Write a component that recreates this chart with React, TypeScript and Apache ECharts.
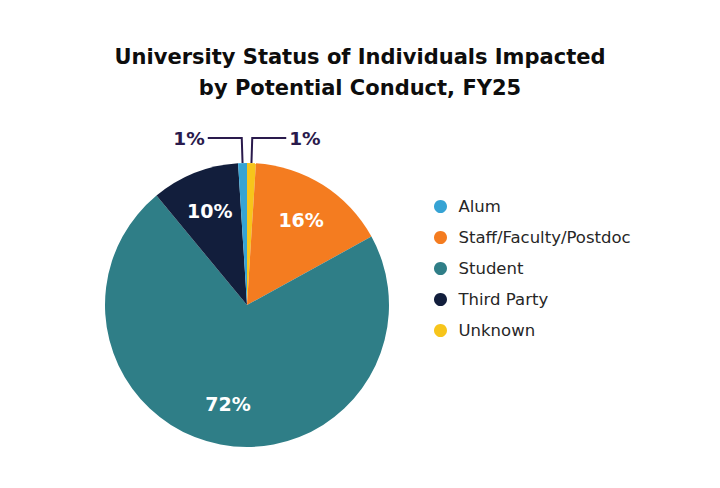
import React, { useEffect, useRef } from "react";
import * as echarts from "echarts";

const titleText = "University Status of Individuals Impacted\nby Potential Conduct, FY25";
const legendOrder = ["Alum", "Staff/Faculty/Postdoc", "Student", "Third Party", "Unknown"];
const legendColors = ["#36A3D4", "#F47C20", "#2F7E87", "#121E3C", "#F7C51B"];
// slice order clockwise from 12 o'clock
const sliceNames = ["Unknown", "Staff/Faculty/Postdoc", "Student", "Third Party", "Alum"];
const sliceValues = [1, 16, 72, 10, 1];
const outsideLabelNames = ["Unknown", "Alum"];

const colorOf = (name: string) => legendColors[legendOrder.indexOf(name)];

export default function App() {
  const ref = useRef<HTMLDivElement>(null);
  useEffect(() => {
    document.body.style.margin = "0";
    const chart = echarts.init(ref.current!, null, { renderer: "svg" });
    const font = "'DejaVu Sans', sans-serif";
    const mainData = sliceNames.map((name, i) => {
      const outside = outsideLabelNames.includes(name);
      return {
        name,
        value: sliceValues[i],
        itemStyle: { color: colorOf(name) },
        label: { show: outside },
        labelLine: { show: outside },
      };
    });
    const innerData = sliceNames.map((name, i) => ({
      name,
      value: sliceValues[i],
      label: { show: !outsideLabelNames.includes(name) },
    }));
    chart.setOption({
      animation: false,
      backgroundColor: "#ffffff",
      title: {
        text: titleText,
        left: "center",
        top: 36,
        textStyle: {
          fontFamily: font,
          fontSize: 21,
          fontWeight: "bold",
          color: "#0d0d0d",
          lineHeight: 31,
        },
      },
      legend: {
        orient: "vertical",
        left: 434,
        top: 198,
        padding: 0,
        icon: "circle",
        itemWidth: 26,
        itemHeight: 13,
        itemGap: 14,
        data: legendOrder.map((n) => ({ name: n, itemStyle: { color: colorOf(n) } })),
        textStyle: { fontFamily: font, fontSize: 16.5, lineHeight: 17, color: "#262626" },
        selectedMode: false,
      },
      series: [
        {
          type: "pie",
          center: [247, 305],
          radius: [0, 142],
          startAngle: 90,
          clockwise: true,
          avoidLabelOverlap: false,
          itemStyle: { borderWidth: 0 },
          label: {
            position: "outside",
            formatter: "{c}%",
            fontFamily: font,
            fontSize: 18.5,
            fontWeight: "bold",
            color: "#2A1A4C",
            distanceToLabelLine: 3,
          },
          labelLine: {
            length: 25,
            length2: 34,
            lineStyle: { color: "#2A1A4C", width: 2 },
          },
          emphasis: { disabled: true },
          data: mainData,
        },
        {
          type: "pie",
          center: [247, 305],
          radius: [54, 142],
          startAngle: 90,
          clockwise: true,
          silent: true,
          legendHoverLink: false,
          itemStyle: { color: "rgba(0,0,0,0)", borderWidth: 0 },
          label: {
            position: "inside",
            formatter: "{c}%",
            fontFamily: font,
            fontSize: 19,
            fontWeight: "bold",
            color: "#ffffff",
          },
          labelLine: { show: false },
          emphasis: { disabled: true },
          data: innerData,
        },
      ],
    });
    return () => chart.dispose();
  }, []);
  return <div ref={ref} style={{ position: "fixed", left: 0, top: 0, width: 720, height: 488 }} />;
}
